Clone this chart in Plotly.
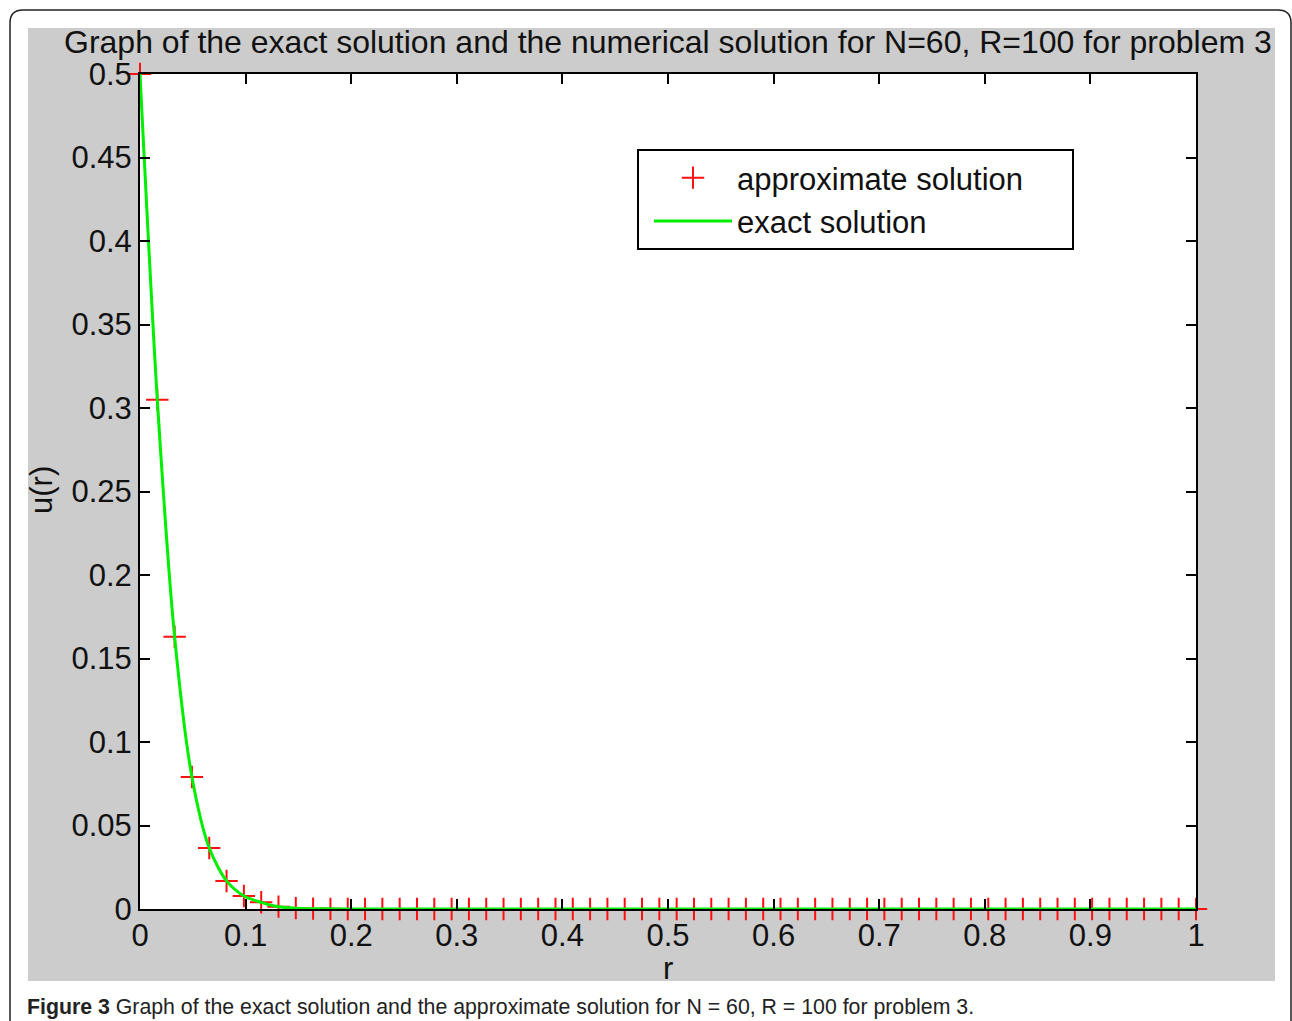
import plotly.graph_objects as go

# ---- data ----
n_intervals = 61
r_nodes = [k / n_intervals for k in range(n_intervals + 1)]
u_approx = [0.5, 0.305, 0.163, 0.079, 0.0365, 0.0168, 0.0078, 0.0040, 0.0014, 0.0005,
            0.0002, 0.0001] + [0.0] * (n_intervals + 1 - 12)
u_exact = u_approx[:]

x_ticks = [i / 10 for i in range(11)]
x_tick_labels = ["0", "0.1", "0.2", "0.3", "0.4", "0.5", "0.6", "0.7", "0.8", "0.9", "1"]
y_ticks = [i * 0.05 for i in range(11)]
y_tick_labels = ["0", "0.05", "0.1", "0.15", "0.2", "0.25", "0.3", "0.35", "0.4", "0.45", "0.5"]

series_names = ["approximate solution", "exact solution"]
title_text = "Graph of the exact solution and the numerical solution for N=60, R=100 for problem 3"
caption = ("<b>Figure 3</b> Graph of the exact solution and the approximate solution "
           "for N = 60, R = 100 for problem 3.")

# ---- layout geometry (pixels) ----
W, H = 1292, 1021
L, R, T, B = 140, 1196, 74, 909


def px(x):
    return (x - L) / (R - L)


def py(y):
    return (B - y) / (B - T)


FONT = "Liberation Sans, Arial, sans-serif"
TXT = "#111111"
PAD = "\u00a0" * 5  # right padding inside the legend box

fig = go.Figure()
fig.add_trace(go.Scatter(
    x=r_nodes, y=u_approx, mode="markers", name=series_names[0] + PAD,
    marker=dict(symbol="cross-thin", size=16, color="#ff1010",
                line=dict(width=2, color="#ff1010")),
    cliponaxis=False,
))
fig.add_trace(go.Scatter(
    x=r_nodes, y=u_exact, mode="lines", name=series_names[1],
    line=dict(color="#00ee00", width=3, shape="spline", smoothing=0.8),
    cliponaxis=False,
))

shapes = []
# rounded outer frame
rad = 13
x0f, y0f, x1f, y1f = 10, 10, 1291, 1040
path = (f"M {px(x0f)},{py(y1f)} L {px(x0f)},{py(y0f + rad)} "
        f"Q {px(x0f)},{py(y0f)} {px(x0f + rad)},{py(y0f)} "
        f"L {px(x1f - rad)},{py(y0f)} Q {px(x1f)},{py(y0f)} {px(x1f)},{py(y0f + rad)} "
        f"L {px(x1f)},{py(y1f)}")
shapes.append(dict(type="path", xref="paper", yref="paper", path=path,
                   line=dict(color="#222222", width=1.5), layer="below"))
# gray figure background
shapes.append(dict(type="rect", xref="paper", yref="paper",
                   x0=px(28), x1=px(1275), y0=py(981), y1=py(28),
                   fillcolor="#cccccc", line=dict(width=0), layer="below"))
# white axes area
shapes.append(dict(type="rect", xref="paper", yref="paper",
                   x0=0, x1=1, y0=0, y1=1,
                   fillcolor="white", line=dict(width=0), layer="below"))

annotations = [
    dict(text=title_text, xref="paper", yref="paper", x=px(668), y=py(42),
         xanchor="center", yanchor="middle", showarrow=False,
         font=dict(family=FONT, size=32, color=TXT)),
    dict(text="u(r)", xref="paper", yref="paper", x=px(42), y=py(490),
         xanchor="center", yanchor="middle", textangle=-90, showarrow=False,
         font=dict(family=FONT, size=31, color=TXT)),
    dict(text="r", xref="paper", yref="paper", x=px(668), y=py(968),
         xanchor="center", yanchor="middle", showarrow=False,
         font=dict(family=FONT, size=31, color=TXT)),
    dict(text=caption, xref="paper", yref="paper", x=px(25), y=py(1007),
         xanchor="left", yanchor="middle", showarrow=False,
         font=dict(family=FONT, size=21.3, color="#222222")),
]

axis_common = dict(
    showgrid=False, zeroline=False, showline=True, linecolor="black", linewidth=2,
    mirror="ticks", ticks="inside", ticklen=10, tickwidth=2, tickcolor="black",
    tickfont=dict(family=FONT, size=31, color=TXT),
)

fig.update_layout(
    width=W, height=H,
    margin=dict(l=L, r=W - R, t=T, b=H - B, pad=0),
    paper_bgcolor="white", plot_bgcolor="white",
    showlegend=True,
    legend=dict(x=px(637), y=py(149), xanchor="left", yanchor="top",
                bgcolor="white", bordercolor="black", borderwidth=2,
                font=dict(family=FONT, size=31, color=TXT),
                tracegroupgap=0, indentation=10, itemwidth=78),
    xaxis=dict(range=[0, 1], tickvals=x_ticks, ticktext=x_tick_labels,
               ticklabelstandoff=-2, **axis_common),
    yaxis=dict(range=[0, 0.5], tickvals=y_ticks, ticktext=y_tick_labels,
               ticklabelstandoff=0, **axis_common),
    shapes=shapes, annotations=annotations,
)

fig.write_html("out.html")
